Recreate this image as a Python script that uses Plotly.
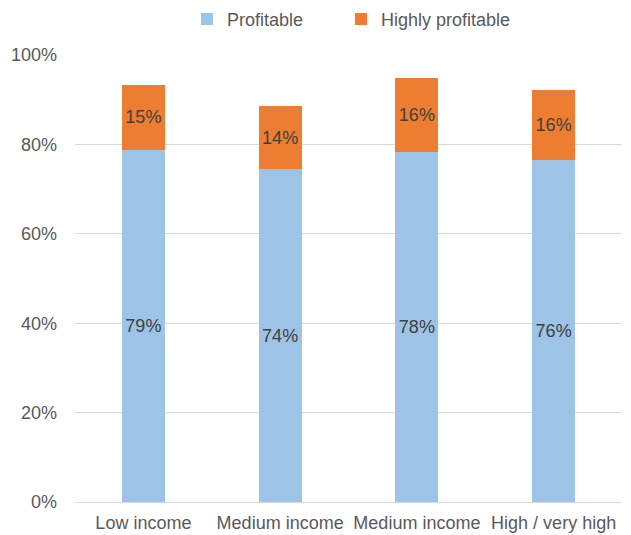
import plotly.graph_objects as go

categories = ["Low income", "Medium income", "Medium income", "High / very high"]
profitable = [0.787, 0.744, 0.784, 0.764]
highly_profitable = [0.147, 0.142, 0.164, 0.157]

# duplicate category names, so use numeric positions with tick labels
xpos = list(range(len(categories)))

fig = go.Figure()
fig.add_trace(go.Bar(
    x=xpos, y=profitable, name="Profitable", legend="legend",
    marker=dict(color="#9DC3E6", line=dict(width=0)),
    texttemplate="%{y:.0%}", textposition="inside", insidetextanchor="middle",
    textangle=0, constraintext="none",
    textfont=dict(color="#404040", size=18),
))
fig.add_trace(go.Bar(
    x=xpos, y=highly_profitable, name="Highly profitable", legend="legend2",
    marker=dict(color="#ED7D31", line=dict(width=0)),
    texttemplate="%{y:.0%}", textposition="inside", insidetextanchor="middle",
    textangle=0, constraintext="none",
    textfont=dict(color="#404040", size=18),
))

legend_style = dict(orientation="h", y=1.08, yanchor="middle", xanchor="left",
                    font=dict(size=18, color="#595959"), itemwidth=30)

# page body has an 8px margin, so the figure is a bit smaller than the window
fig.update_layout(
    barmode="stack",
    bargap=0.686,
    width=623, height=527,
    margin=dict(l=67, r=9, t=47, b=33, autoexpand=False),
    plot_bgcolor="white", paper_bgcolor="white",
    font=dict(family="Liberation Sans, Arial, sans-serif", size=18, color="#595959"),
    legend=dict(x=0.2047, **legend_style),
    legend2=dict(x=0.4863, **legend_style),
    showlegend=True,
)
fig.update_xaxes(
    range=[-0.5, 3.5], tickvals=xpos, ticktext=categories,
    showgrid=False, showline=False, zeroline=False, ticks="",
    ticklabelstandoff=8, automargin=False,
)
fig.update_yaxes(
    range=[0, 1], dtick=0.2, tickformat=".0%",
    showgrid=True, gridcolor="#D9D9D9", gridwidth=1.3,
    zeroline=True, zerolinecolor="#D9D9D9", zerolinewidth=1.3,
    showline=False, ticks="", ticklabelstandoff=17, automargin=False,
)

fig.write_html("out.html")
